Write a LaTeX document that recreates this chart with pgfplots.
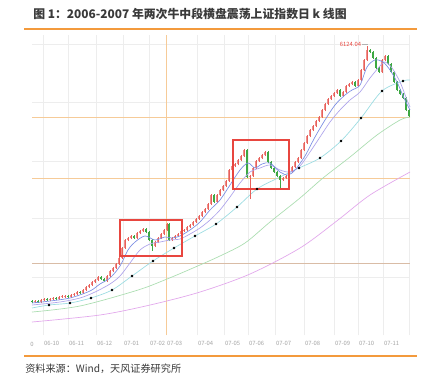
\documentclass[border=0pt]{standalone}
\usepackage{fontspec}
\setmainfont{Noto Sans CJK SC}
\usepackage{pgfplots}
\usepackage{pgfplotstable}
\pgfplotsset{compat=1.18}
\definecolor{hdr}{HTML}{F39A3C}
\definecolor{upc}{HTML}{E8605A}
\definecolor{dnc}{HTML}{3DA843}
\definecolor{maA}{HTML}{7B8EE4}
\definecolor{maB}{HTML}{AEA4EC}
\definecolor{maC}{HTML}{9ADCE2}
\definecolor{maD}{HTML}{AADDB0}
\definecolor{maE}{HTML}{E2A6EC}
\definecolor{hl}{HTML}{F6CB98}
\definecolor{hl2}{HTML}{D9BCA6}
\definecolor{boxred}{HTML}{E8463F}
\definecolor{txt}{HTML}{3A3A3A}

\pgfplotstableread{
x o c e f
32 1625 1615 0 0
35 1615 1632 0 0
38 1632 1615 0 0
41 1615 1650 0 0
44 1650 1668 0 0
47 1668 1650 0 0
50 1650 1668 0 0
53 1668 1685 0 0
56 1685 1668 0 0
59 1668 1703 0 0
62 1703 1712 0 0
65 1712 1720 0 0
68 1720 1703 0 0
71 1703 1738 0 0
74 1738 1755 0 0
77 1755 1790 0 0
80 1790 1773 0 0
83 1773 1825 0 0
86 1825 1878 0 0
89 1878 1913 0 0
92 1913 1966 0 0
95 1966 2001 0 0
98 2001 2053 0 0
101 2053 2018 0 0
104 2018 1983 0 0
107 1983 2071 0 0
110 2071 2159 0 0
113 2159 2211 0 0
116 2211 2281 0 0
119 2281 2387 0 0
122 2387 2562 0 0
125 2562 2702 0 0
128 2702 2737 0 0
131 2737 2773 0 0
134 2773 2737 0 0
137 2737 2825 0 0
140 2825 2860 0 0
143 2860 2895 0 0
146 2895 2843 0 0
149 2843 2702 0 0
152 2702 2597 60 0
155 2597 2667 0 0
158 2667 2737 0 0
161 2737 2808 0 0
164 2808 2878 0 0
167 2878 2983 0 0
169 2983 2702 0 0
172 2702 2737 0 0
175 2737 2773 0 0
178 2773 2808 0 0
181 2808 2860 0 0
184 2860 2878 0 0
187 2878 2930 0 0
190 2930 2966 0 0
193 2966 3018 0 0
196 3018 3071 0 0
199 3071 3123 0 0
202 3123 3194 0 0
205 3194 3246 0 0
208 3246 3334 0 0
211 3334 3492 0 0
214 3492 3369 0 0
217 3369 3492 0 0
220 3492 3579 0 0
223 3579 3650 0 0
226 3650 3737 0 0
229 3737 3930 0 0
232 3930 4000 0 0
235 4000 4030 0 0
238 4030 4106 0 0
241 4106 4176 0 0
244 4176 4281 0 0
247 4281 3807 0 0
250 3807 3825 368 0
253 3825 3965 0 0
256 3965 4088 0 0
259 4088 4141 0 0
262 4141 4193 0 0
265 4193 4246 0 0
268 4246 4071 0 0
271 4071 3965 0 0
274 3965 3895 0 0
277 3895 3825 0 0
280 3825 3755 141 0
283 3755 3790 0 0
286 3790 3825 0 0
289 3825 3895 0 0
292 3895 3983 0 0
295 3983 4071 0 0
298 4071 4141 0 0
301 4141 4281 0 0
304 4281 4404 0 0
307 4404 4527 0 0
310 4527 4632 0 0
313 4632 4702 0 0
316 4702 4790 0 0
319 4790 4860 0 0
322 4860 4983 0 0
325 4983 5088 0 0
328 5088 5176 0 0
331 5176 5228 0 0
334 5228 5281 0 0
337 5281 5333 0 0
340 5333 5228 0 0
343 5228 5298 0 0
346 5298 5404 0 0
349 5404 5439 0 0
352 5439 5474 0 0
355 5474 5404 0 0
358 5404 5509 0 0
361 5509 5684 0 0
364 5684 5860 0 0
367 5860 6035 0 54
370 6035 6000 0 0
373 6000 5895 0 0
376 5895 5719 0 0
379 5719 5649 0 0
382 5649 5860 0 0
385 5860 5930 0 0
388 5930 5789 0 0
391 5789 5649 0 0
394 5649 5474 0 0
397 5474 5333 0 0
400 5333 5263 0 0
403 5263 5193 0 0
406 5193 4983 0 0
409 4983 4877 0 0
}\candles

\begin{document}
\begin{tikzpicture}
\begin{axis}[
  set layers,
  scale only axis, width=283.5pt, height=225pt,
  xmin=32, xmax=410, ymin=1036, ymax=6298,
  clip=false,
  axis line style={draw=none},
  major tick style={draw=none},
  xmajorgrids, ymajorgrids,
  major grid style={color=black!7, line width=0.4pt},
  xtick={43,68,96,123,149,166,197,224,248,275,304,334,358,383,409},
  xticklabels={06-10,06-11,06-12,07-01,07-02,07-03,07-04,07-05,07-06,07-07,07-08,07-09,07-10,07-11,{}},
  xticklabel style={anchor=north west, inner sep=0pt, yshift=-4.3pt, xshift=0.6pt, font=\fontsize{4.4}{5}\selectfont, text=gray!70},
  ytick={2053,3088,4088,5123,6140},
  yticklabels={},
]
% page frame on the background layer
\begin{pgfonlayer}{axis background}
\fill[white] (axis cs:0,317) rectangle (axis cs:436,6912);
\end{pgfonlayer}
\path (axis cs:0,317) rectangle (axis cs:436,6912);
\node[anchor=west, inner sep=0pt, font=\fontsize{8.9}{10}\selectfont\bfseries, text=txt] at (axis cs:33,6666) {图 1：2006-2007 年两次牛中段横盘震荡上证指数日 k 线图};
\draw[hdr, line width=1.1pt] (axis cs:24,6403) -- (axis cs:417,6403);
\draw[hdr, line width=1.1pt] (axis cs:24,668) -- (axis cs:417,668);
\node[anchor=west, inner sep=0pt, font=\fontsize{7.6}{9}\selectfont, text=txt] at (axis cs:25,448) {资料来源：Wind，天风证券研究所};
\node[inner sep=0pt, font=\fontsize{4.4}{5}\selectfont, text=gray!70] at (axis cs:32,878) {0};
% reference lines
\draw[hl, line width=0.7pt] (axis cs:32,4860) -- (axis cs:410,4860);
\draw[hl, line width=0.7pt] (axis cs:32,3790) -- (axis cs:410,3790);
\draw[hl2, line width=0.7pt] (axis cs:32,2299) -- (axis cs:410,2299);
\draw[hl, line width=0.7pt] (axis cs:166,1036) -- (axis cs:166,6298);
% long moving averages
\addplot[maE, line width=0.5pt, smooth, tension=0.5] coordinates {(32,1264) (100,1387) (150,1562) (200,1790) (250,2106) (300,2562) (338,3053) (370,3492) (410,3895)};
\addplot[maD, line width=0.5pt, smooth, tension=0.5] coordinates {(32,1439) (80,1545) (138,1825) (167,2018) (193,2211) (220,2422) (245,2650) (270,3018) (300,3439) (323,3790) (350,4158) (377,4544) (400,4807) (410,4860)};
\addplot[maC, line width=0.5pt, smooth, tension=0.5] coordinates {(32,1510) (49,1562) (70,1597) (91,1685) (112,1825) (132,2071) (153,2334) (174,2562) (195,2773) (216,2983) (237,3281) (257,3597) (278,3790) (299,3965) (320,4141) (341,4439) (361,4842) (382,5316) (403,5491) (410,5509)};
\addplot[only marks, mark=*, mark size=0.75pt, black] coordinates {(49,1562) (70,1597) (91,1685) (112,1825) (132,2071) (153,2334) (174,2562) (195,2773) (216,2983) (237,3281) (257,3597) (299,3965) (320,4141) (341,4439) (361,4842) (382,5316) (403,5491)};
% candles: wicks
\addplot[draw=none, mark=none, restrict expr to domain={\thisrow{c}-\thisrow{o}}{0:100000},
  error bars/.cd, y dir=plus, y explicit, error mark=none, error bar style={draw=upc, line width=0.3pt}]
  table[x=x, y expr={min(\thisrow{o},\thisrow{c})-20-\thisrow{e}}, y error expr={abs(\thisrow{c}-\thisrow{o})+40+\thisrow{e}+\thisrow{f}}] {\candles};
\addplot[draw=none, mark=none, restrict expr to domain={\thisrow{c}-\thisrow{o}}{-100000:-0.001},
  error bars/.cd, y dir=plus, y explicit, error mark=none, error bar style={draw=dnc, line width=0.3pt}]
  table[x=x, y expr={min(\thisrow{o},\thisrow{c})-20-\thisrow{e}}, y error expr={abs(\thisrow{c}-\thisrow{o})+40+\thisrow{e}+\thisrow{f}}] {\candles};
% candles: bodies
\addplot[draw=none, mark=none, restrict expr to domain={\thisrow{c}-\thisrow{o}}{0:100000},
  error bars/.cd, y dir=plus, y explicit, error mark=none, error bar style={draw=upc, line width=1.5pt, opacity=0.7}]
  table[x=x, y expr={min(\thisrow{o},\thisrow{c})}, y error expr={abs(\thisrow{c}-\thisrow{o})}] {\candles};
\addplot[draw=none, mark=none, restrict expr to domain={\thisrow{c}-\thisrow{o}}{-100000:-0.001},
  error bars/.cd, y dir=plus, y explicit, error mark=none, error bar style={draw=dnc, line width=1.4pt}]
  table[x=x, y expr={min(\thisrow{o},\thisrow{c})}, y error expr={abs(\thisrow{c}-\thisrow{o})}] {\candles};
% short moving averages
\addplot[maB, line width=0.5pt, smooth, tension=0.5] coordinates {(32,1562) (60,1615) (80,1685) (95,1790) (110,1931) (120,2071) (130,2299) (140,2527) (150,2632) (160,2667) (170,2702) (180,2720) (190,2808) (200,2913) (210,3053) (220,3229) (230,3457) (240,3702) (250,3895) (260,3965) (270,4018) (280,3930) (290,3895) (300,4000) (310,4246) (320,4509) (330,4772) (340,4983) (350,5158) (360,5298) (370,5544) (380,5755) (385,5825) (392,5720) (400,5474) (407,5158) (410,5035)};
\addplot[maA, line width=0.5pt, smooth, tension=0.5] coordinates {(32,1597) (50,1632) (70,1685) (90,1808) (100,1931) (110,2036) (120,2246) (128,2527) (135,2667) (145,2773) (155,2702) (165,2755) (172,2737) (180,2773) (190,2878) (200,3018) (210,3229) (220,3404) (230,3667) (240,3930) (248,4053) (255,3965) (262,4035) (270,4053) (280,3895) (288,3843) (295,3930) (305,4176) (315,4509) (325,4807) (335,5070) (345,5246) (352,5333) (360,5421) (367,5737) (375,5860) (383,5825) (390,5684) (397,5474) (404,5193) (410,4983)};
% boxes and peak label
\draw[boxred, line width=1.5pt] (axis cs:120,3053) rectangle (axis cs:182,2422);
\draw[boxred, line width=1.5pt] (axis cs:233,4456) rectangle (axis cs:289,3597);
\draw[gray!60, line width=0.3pt] (axis cs:362,6140) -- (axis cs:368,6140);
\node[anchor=east, inner sep=0.5pt, font=\fontsize{4.4}{5}\selectfont, text=boxred] at (axis cs:362,6140) {6124.04};
\end{axis}
\end{tikzpicture}
\end{document}
